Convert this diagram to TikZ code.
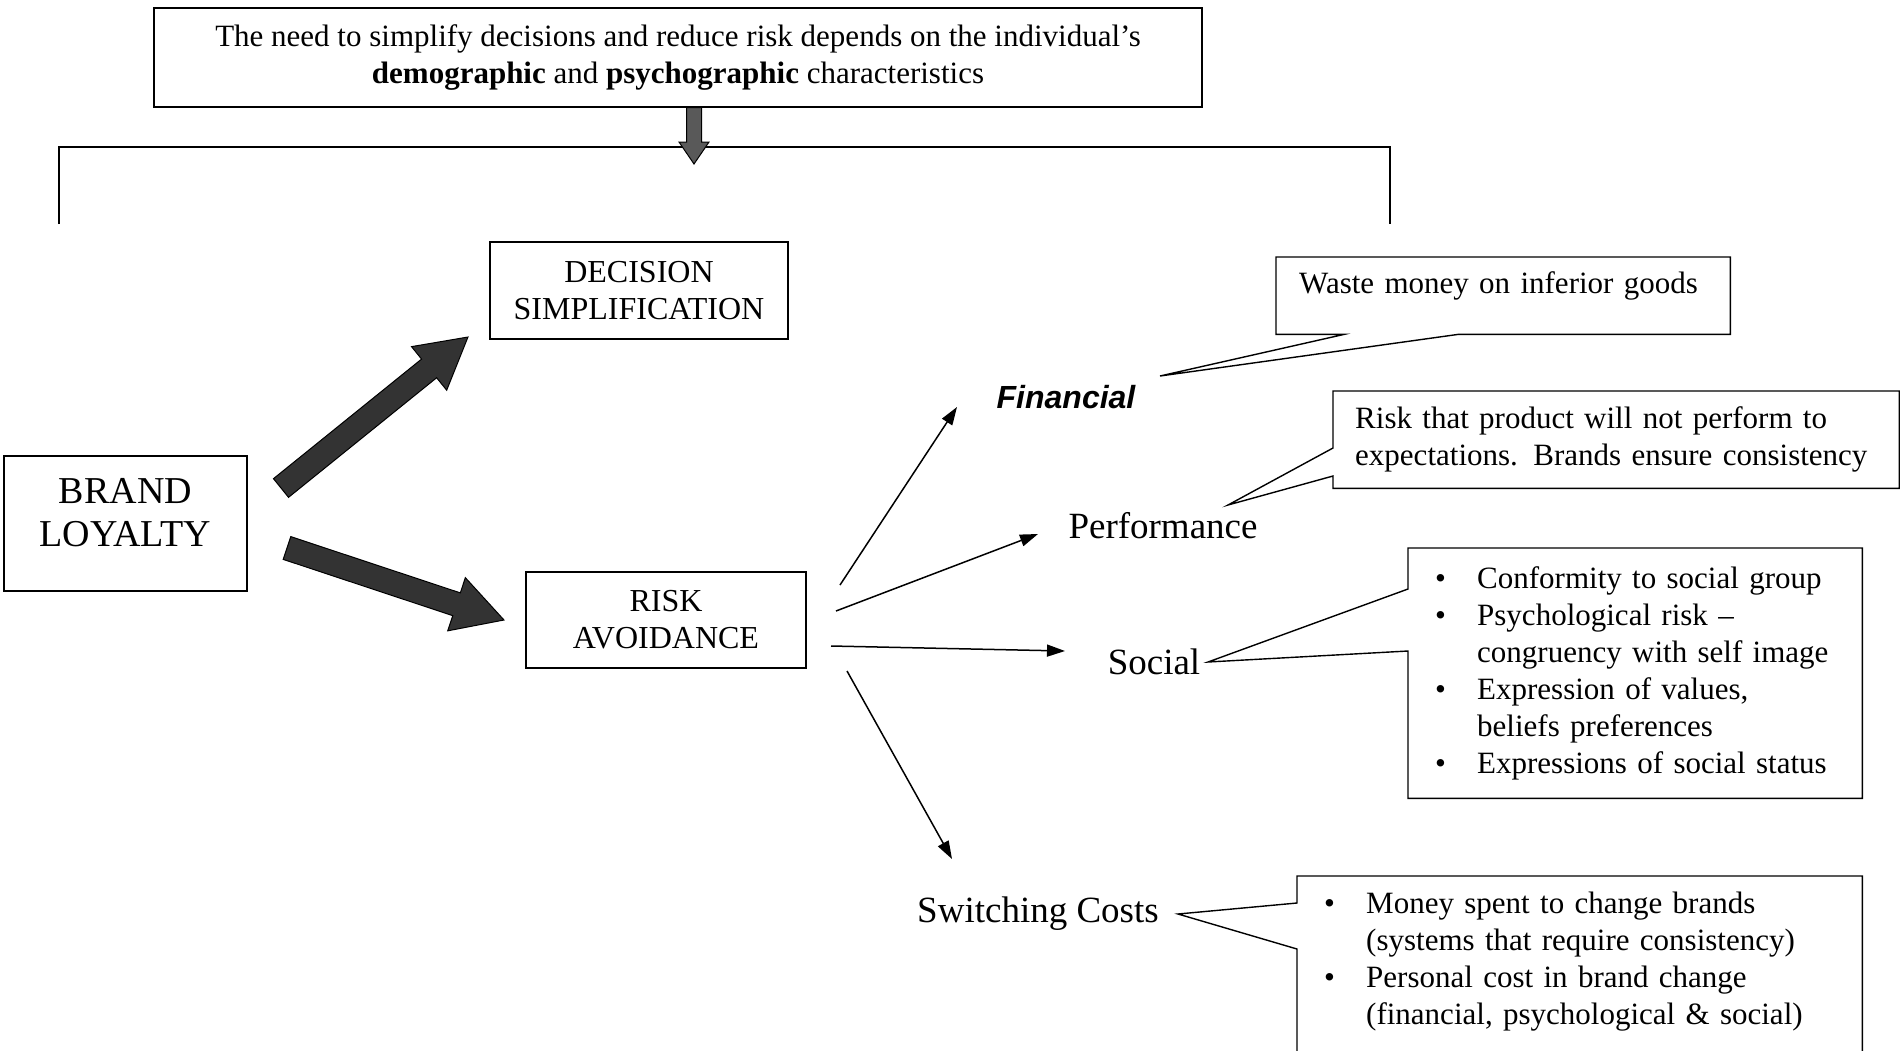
\documentclass[tikz,border=0pt]{standalone}
\usepackage{fontspec}
\setmainfont{Liberation Serif}
\newfontfamily\finfont{Liberation Sans}
\usetikzlibrary{arrows.meta,calc}

% fat block arrow: style, from, to, shaft half width, head half width, head length
\newcommand{\fatarrow}[6]{%
  \path ($(#3)!#6!(#2)$) coordinate (fah);
  \draw[#1] ($(#2)!#4!90:(#3)$) -- ($(fah)!#4!-90:(#2)$) -- ($(fah)!#5!-90:(#2)$)
    -- (#3) -- ($(fah)!#5!90:(#2)$) -- ($(fah)!#4!90:(#2)$) -- ($(#2)!#4!-90:(#3)$) -- cycle;}

\tikzset{
  blk/.style={draw, line width=1.4pt, inner sep=0pt, align=center,
    font=\fontsize{32}{37}\selectfont},
  callbox/.style={anchor=north west, inner ysep=0pt, align=left,
    font=\fontsize{31}{37}\selectfont},
  lbl/.style={inner sep=0pt, font=\fontsize{37}{43}\selectfont},
  riskarrow/.style={line width=1.5pt, -{Triangle[length=18pt,width=12pt]}},
  callline/.style={line width=1.4pt, line join=miter},
}

\begin{document}
\begin{tikzpicture}[x=1pt,y=-1pt]
  \useasboundingbox (0,0) rectangle (1900,1050);
  \fill[white] (0,0) rectangle (1900,1050);
  \clip (0,0) rectangle (1900,1050);

  % main boxes
  \node[blk, minimum width=1048, minimum height=99, font=\fontsize{31}{37}\selectfont] (need) at (678,57.5)
    {The need to simplify decisions and reduce risk depends on the individual’s\\
     \textbf{demographic} and \textbf{psychographic} characteristics};
  \node[blk, minimum width=298, minimum height=97] (dec) at (639,290.5) {DECISION\\SIMPLIFICATION};
  \node[blk, minimum width=280, minimum height=96] (risk) at (666,620) {RISK\\AVOIDANCE};
  \node[blk, minimum width=243, minimum height=135, font=\fontsize{38}{43}\selectfont,
    text depth=22pt] (brand) at (125.5,523.5) {BRAND\\LOYALTY};

  % bracket under the top box
  \coordinate (drop) at (694,164);
  \draw[line width=1.4pt] (59,224) -- (59,147) -- (1390,147) -- (1390,224);
  \fatarrow{draw=black, line width=1pt, fill=black!65}{need.south -| drop}{drop}{7.5pt}{15pt}{22pt}

  % fat arrows out of brand loyalty
  \coordinate (b1) at (281,488);
  \coordinate (d1) at (468,337);
  \coordinate (b2) at (287,548);
  \coordinate (r2) at (504,620);
  \fatarrow{draw=black, line width=1pt, fill=black!80}{b1}{d1}{12pt}{28pt}{50pt}
  \fatarrow{draw=black, line width=1pt, fill=black!80}{b2}{r2}{12pt}{28pt}{50pt}

  % kinds of risk
  \node[inner sep=0pt, font=\finfont\bfseries\itshape\fontsize{32}{36}\selectfont] (fin) at (1066,397) {Financial};
  \node[lbl] (perf) at (1163,526) {Performance};
  \node[lbl] (soc) at (1154,662) {Social};
  \node[lbl] (swc) at (1038,914) {Switching Costs};

  \coordinate (s1) at (840,585);  \coordinate (e1) at (957,407);
  \coordinate (s2) at (836,611);  \coordinate (e2) at (1038,534);
  \coordinate (s3) at (831,646);  \coordinate (e3) at (1065,651);
  \coordinate (s4) at (847,671);  \coordinate (e4) at (952,859);
  \foreach \i in {1,...,4}
    \draw[riskarrow] (s\i) -- (e\i);

  % callouts
  \node[callbox, inner xsep=23pt, minimum width=454, minimum height=77, text width=408,
    text height=31pt, text depth=35pt, inner ysep=5.5pt] (waste) at (1276,257)
    {Waste money on inferior goods};
  \coordinate (fintip) at (1160,376);
  \draw[callline] (waste.north west) -- (waste.north east) -- (waste.south east)
    -- ($(waste.south west)+(182,0)$) -- (fintip) -- ($(waste.south west)+(68,0)$)
    -- (waste.south west) -- cycle;

  \node[callbox, inner xsep=22pt, minimum width=566, minimum height=97, text width=522] (risktxt) at (1333,391)
    {Risk that product will not perform to\\expectations. Brands ensure consistency};
  \coordinate (perftip) at (1228,505);
  \draw[callline] (risktxt.north west) -- (risktxt.north east) -- (risktxt.south east)
    -- (risktxt.south west) -- ($(risktxt.north west)+(0,85)$) -- (perftip)
    -- ($(risktxt.north west)+(0,57)$) -- cycle;

  \node[callbox, inner xsep=27pt, minimum width=454, minimum height=250, text width=400] (soctxt) at (1408,548)
    {\begin{tabular}{@{}p{42pt}@{}l@{}}
      \textbullet & Conformity to social group\\
      \textbullet & Psychological risk –\\
                  & congruency with self image\\
      \textbullet & Expression of values,\\
                  & beliefs preferences\\
      \textbullet & Expressions of social status
     \end{tabular}};
  \coordinate (soctip) at (1208,662);
  \draw[callline] (soctxt.north west) -- (soctxt.north east) -- (soctxt.south east)
    -- (soctxt.south west) -- ($(soctxt.north west)+(0,103)$) -- (soctip)
    -- ($(soctxt.north west)+(0,41)$) -- cycle;

  \node[callbox, inner xsep=27pt, minimum width=565, minimum height=170, text width=511] (swctxt) at (1297,876)
    {\begin{tabular}{@{}p{42pt}@{}l@{}}
      \textbullet & Money spent to change brands\\
                  & (systems that require consistency)\\
      \textbullet & Personal cost in brand change\\
                  & (financial, psychological \& social)
     \end{tabular}};
  \coordinate (swctip) at (1178,914);
  \draw[callline] ($(swctxt.north west)+(0,200)$) -- ($(swctxt.north west)+(0,73)$) -- (swctip)
    -- ($(swctxt.north west)+(0,27)$) -- (swctxt.north west) -- (swctxt.north east)
    -- ($(swctxt.north east)+(0,200)$);
\end{tikzpicture}
\end{document}
